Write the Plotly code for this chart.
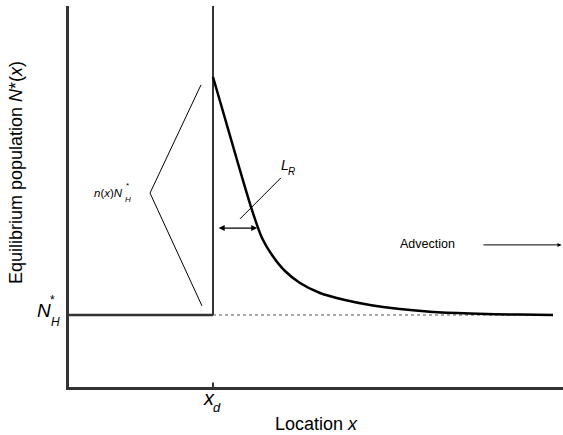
import plotly.graph_objects as go

# ---- data (abstract units: x 0..10, y 0..10) ----
x_d = 2.915          # location of the step
N_H = 1.89           # homogeneous equilibrium N*_H
y_top = 10.0
x_end = 10.0

curve_x = [2.915, 3.097, 3.401, 3.704, 3.907, 4.109, 4.372, 4.676, 5.081, 5.587,
           6.093, 6.700, 7.308, 8.117, 9.130, 9.798]
curve_y = [8.136, 7.323, 5.958, 4.646, 3.911, 3.465, 3.045, 2.730, 2.467, 2.283,
           2.152, 2.047, 1.974, 1.927, 1.900, 1.890]

bracket_x = [2.672, 1.640, 2.692]
bracket_y = [7.93, 5.09, 2.13]

lr_leader_x = [4.29, 3.46]
lr_leader_y = [5.49, 4.41]
lr_arrow_x = [3.00, 3.81]
lr_arrow_y = 4.17

adv_arrow_x = [8.36, 9.97]
adv_arrow_y = 3.73

dotted_x = [x_d, 9.80]

FONT = "Arial, Liberation Sans, sans-serif"
AXC = "#333333"

fig = go.Figure()

fig.add_trace(go.Scatter(x=[0, x_d], y=[N_H, N_H], mode="lines",
                         line=dict(color=AXC, width=2.5), hoverinfo="skip"))
fig.add_trace(go.Scatter(x=[x_d, x_d], y=[N_H, y_top], mode="lines",
                         line=dict(color=AXC, width=2), hoverinfo="skip"))
fig.add_trace(go.Scatter(x=dotted_x, y=[N_H, N_H], mode="lines",
                         line=dict(color="#555555", width=1, dash="dot"), hoverinfo="skip"))
fig.add_trace(go.Scatter(x=curve_x, y=curve_y, mode="lines", line_shape="spline",
                         line=dict(color="black", width=2.5, smoothing=0.8), hoverinfo="skip"))
fig.add_trace(go.Scatter(x=bracket_x, y=bracket_y, mode="lines",
                         line=dict(color="black", width=1), hoverinfo="skip"))
fig.add_trace(go.Scatter(x=lr_leader_x, y=lr_leader_y, mode="lines",
                         line=dict(color="black", width=1), hoverinfo="skip"))
fig.add_trace(go.Scatter(x=[x_d, x_d], y=[0, 0.12], mode="lines",
                         line=dict(color=AXC, width=2), hoverinfo="skip"))

ann = []
ann.append(dict(x=lr_arrow_x[1], y=lr_arrow_y, ax=lr_arrow_x[0], ay=lr_arrow_y,
                xref="x", yref="y", axref="x", ayref="y", text="", showarrow=True,
                arrowhead=2, arrowside="end+start", arrowsize=1, arrowwidth=1.2,
                arrowcolor="black"))
ann.append(dict(x=adv_arrow_x[1], y=adv_arrow_y, ax=adv_arrow_x[0], ay=adv_arrow_y,
                xref="x", yref="y", axref="x", ayref="y", text="", showarrow=True,
                arrowhead=2, arrowsize=0.8, arrowwidth=1, arrowcolor="black"))

def txt(x, y, t, size, **kw):
    # positions given in axis units; converted to paper fractions (ranges are 0..10)
    d = dict(x=x / x_end, y=y / y_top, xref="paper", yref="paper", text=t, showarrow=False,
             font=dict(family=FONT, size=size, color="black"),
             xanchor="center", yanchor="middle")
    d.update(kw)
    ann.append(d)

txt(7.26, 3.75, "Advection", 12.5)
txt(4.37, 5.83, "<i>L</i>", 14)
txt(4.50, 5.66, "<i>R</i>", 10)
txt(0.79, 5.10, "<i>n</i>(<i>x</i>)<i>N</i>", 11.5)
txt(1.18, 5.30, "*", 8)
txt(1.20, 4.93, "<i>H</i>", 8)
txt(-0.516, 2.02, "<i>N</i>", 19)
txt(-0.324, 2.28, "*", 12)
txt(-0.283, 1.71, "<i>H</i>", 12)
txt(2.83, -0.29, "<i>x</i>", 20)
txt(3.00, -0.55, "<i>d</i>", 13)
txt(5.02, -0.97, "Location <i>x</i>", 18)
txt(-1.07, 5.62, "Equilibrium population <i>N</i>*(<i>x</i>)", 18, textangle=-90)

fig.update_layout(
    width=563, height=435,
    margin=dict(l=69, r=0, t=6, b=48),
    paper_bgcolor="white", plot_bgcolor="white",
    showlegend=False,
    annotations=ann,
    xaxis=dict(range=[0, x_end], showgrid=False, zeroline=False, showticklabels=False,
               ticks="", showline=True, linecolor=AXC, linewidth=2.5, fixedrange=True),
    yaxis=dict(range=[0, y_top], showgrid=False, zeroline=False, showticklabels=False,
               ticks="", showline=True, linecolor=AXC, linewidth=2.5, fixedrange=True),
)

fig.write_html("out.html", config={"displayModeBar": False},
               post_script="document.body.style.margin='0';")
